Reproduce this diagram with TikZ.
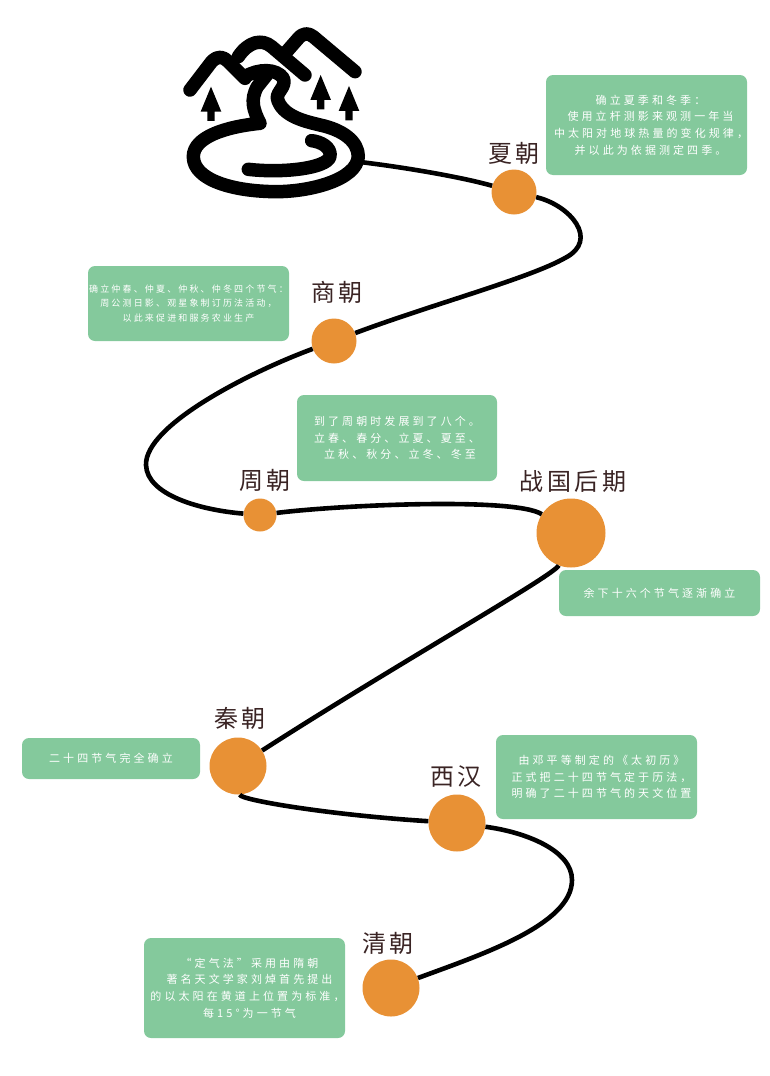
\documentclass[tikz,border=0pt]{standalone}
\usepackage{fontspec}
\usepackage{tikz}
\usetikzlibrary{positioning}
\newfontfamily\notefont[LetterSpace=28]{Noto Sans CJK SC}
\newfontfamily\smallnotefont[LetterSpace=24]{Noto Sans CJK SC}
\newfontfamily\erafont[LetterSpace=16]{Noto Sans CJK SC}
\definecolor{notegreen}{HTML}{84C99C}
\definecolor{dotorange}{HTML}{E89135}
\definecolor{eraink}{HTML}{3A2424}

\begin{document}
\begin{tikzpicture}[
        x=1pt, y=-1pt,
        every node/.style={inner sep=0pt},
        dot/.style={circle, fill=dotorange, minimum size=#1},
        era/.style={text=eraink, font=\erafont\fontsize{24}{28}\selectfont},
        note/.style={rectangle, rounded corners=7pt, fill=notegreen, text=white, align=center, font=\notefont\fontsize{11}{16.7}\selectfont},
        road/.style={line width=4.6pt, black},
        logoline/.style={line width=13.5pt, black, line cap=round, line join=round}]

        \useasboundingbox (0,0) rectangle (769,1076);

        % the logo: mountains, trees, river and lake
        \begin{scope}[shift={(170,20)}, x=0.3333pt, y=-0.3333pt]
            \draw[logoline] (60,210) -- (125,125) .. controls (145,105) and (160,110) .. (175,125) -- (225,175);
            \draw[logoline] (205,110) .. controls (235,65) and (275,55) .. (305,80) -- (405,165);
            \draw[logoline] (350,95) -- (385,55) .. controls (400,38) and (415,38) .. (430,50) -- (555,155);
            \foreach \tx/\ty in {123/200, 452/165, 537/198} {
                \fill[black] (\tx,\ty) -- (\tx+31,\ty+75) -- (\tx+11,\ty+75) -- (\tx+11,\ty+103) -- (\tx-11,\ty+103) -- (\tx-11,\ty+75) -- (\tx-31,\ty+75) -- cycle;
            }
            \draw[logoline] (225,170) .. controls (265,145) and (320,145) .. (340,175)
                .. controls (350,200) and (320,215) .. (322,235)
                .. controls (335,290) and (410,305) .. (450,315)
                .. controls (520,330) and (565,365) .. (565,410)
                .. controls (560,480) and (420,515) .. (320,515)
                .. controls (190,515) and (70,480) .. (70,410)
                .. controls (70,350) and (170,320) .. (270,310)
                .. controls (250,270) and (240,240) .. (262,200)
                -- (290,165);
            \draw[logoline] (235,448) .. controls (340,460) and (470,445) .. (480,410)
                .. controls (485,380) and (450,365) .. (425,362);
        \end{scope}
        \coordinate (logo) at (360,162);

        \node[dot=45pt] (xia) at (514,192) {};
        \node[dot=45pt] (shang) at (334,341) {};
        \node[dot=33pt] (zhou) at (260,515) {};
        \node[dot=69pt] (zhanguo) at (571,533) {};
        \node[dot=57pt] (qin) at (238,766) {};
        \node[dot=57pt] (xihan) at (457,823) {};
        \node[dot=57pt] (qing) at (391,988) {};

        \draw[road] (logo) .. controls (410,168) and (465,178) .. (xia);
        \draw[road] (xia) .. controls (570,205) and (600,240) .. (565,258) .. controls (530,278) and (430,305) .. (shang);
        \draw[road] (shang) .. controls (250,372) and (145,425) .. (146,465) .. controls (147,495) and (200,510) .. (zhou);
        \draw[road] (zhou) .. controls (340,505) and (515,497) .. (zhanguo);
        \draw[road] (zhanguo) .. controls (555,575) and (400,662) .. (qin);
        \draw[road] (qin) .. controls (240,800) and (330,815) .. (xihan);
        \draw[road] (xihan) .. controls (525,832) and (572,850) .. (572,880) .. controls (572,925) and (480,955) .. (qing);

        \node[era] (xialabel) at (514,153) {夏朝};
        \node[era] (shanglabel) at (337,292) {商朝};
        \node[era] (zhoulabel) at (265,480) {周朝};
        \node[era] (zhanguolabel) at (573,481) {战国后期};
        \node[era] (qinlabel) at (240,718) {秦朝};
        \node[era] (xihanlabel) at (456,777) {西汉};
        \node[era] (qinglabel) at (388,943) {清朝};

        \node[note, text width=201pt, minimum height=100pt] (xianote) at (646.5,125) {\hspace*{8pt}确立夏季和冬季：\\\hspace*{8pt}使用立杆测影来观测一年当\\\hspace*{8pt}中太阳对地球热量的变化规律，\\\hspace*{8pt}并以此为依据测定四季。};
        \node[note, text width=201pt, minimum height=75pt, font=\smallnotefont\fontsize{9}{14.5}\selectfont] (shangnote) at (188.5,303.5) {确立仲春、仲夏、仲秋、仲冬四个节气：\\周公测日影、观星象制订历法活动，\\以此来促进和服务农业生产};
        \node[note, minimum width=200pt, minimum height=86pt] (zhounote) at (397,438) {到了周朝时发展到了八个。\\立春、春分、立夏、夏至、\\\hspace*{6pt}立秋、秋分、立冬、冬至};
        \node[note, minimum width=201pt, minimum height=46pt] (zhanguonote) at (659.5,593) {余下十六个节气逐渐确立};
        \node[note, minimum width=178pt, minimum height=41pt] (qinnote) at (111,758.5) {二十四节气完全确立};
        \node[note, text width=201pt, minimum height=84pt] (xihannote) at (596.5,777) {\hspace*{10pt}由邓平等制定的《太初历》\\\hspace*{10pt}正式把二十四节气定于历法，\\\hspace*{10pt}明确了二十四节气的天文位置};
        \node[note, text width=201pt, minimum height=100pt] (qingnote) at (244.5,988) {\hspace*{10pt}“定气法”采用由隋朝\\\hspace*{10pt}著名天文学家刘焯首先提出\\\hspace*{6pt}的以太阳在黄道上位置为标准，\\\hspace*{10pt}每15°为一节气};
    \end{tikzpicture}
\end{document}
